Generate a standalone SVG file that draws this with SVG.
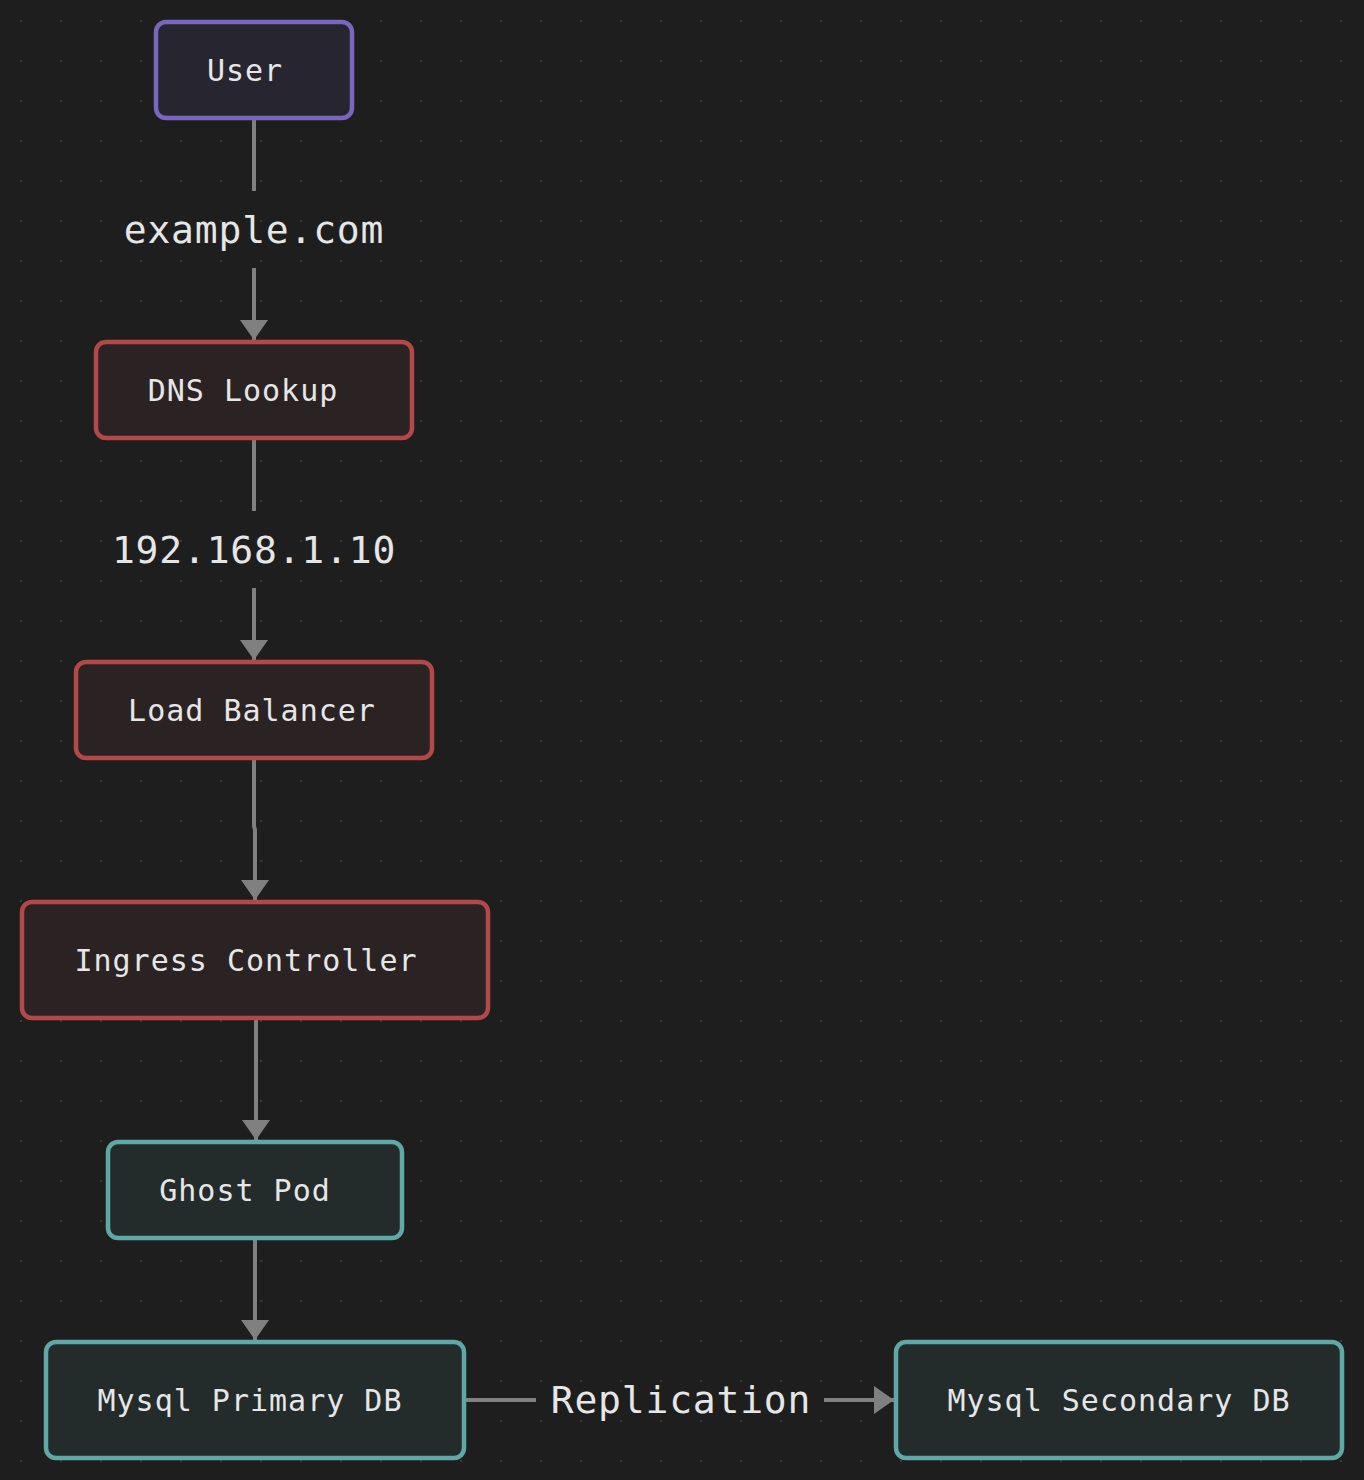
<svg xmlns="http://www.w3.org/2000/svg" width="1364" height="1480" viewBox="0 0 1364 1480">
<defs>
<pattern id="dots" x="0" y="0" width="40" height="40" patternUnits="userSpaceOnUse">
<rect x="20" y="20" width="2" height="2" fill="#3a3a3a"/>
</pattern>
<marker id="arr" viewBox="0 0 10 14" refX="10" refY="7" markerWidth="5" markerHeight="7" markerUnits="strokeWidth" orient="auto">
<path d="M0,0 L10,7 L0,14 z" fill="#808080"/>
</marker>
<style>
.node rect{stroke-width:4.5}
.purple rect{fill:#262530;stroke:#7b66bd}
.red rect{fill:#2b2223;stroke:#b24848}
.teal rect{fill:#232b2b;stroke:#5fa8a6}
.lbl{font-family:"DejaVu Sans Mono","Liberation Mono",monospace;font-size:30px;fill:#e6e6e6;text-anchor:middle;letter-spacing:1px}
.elbl{font-family:"DejaVu Sans Mono","Liberation Mono",monospace;font-size:38px;fill:#e6e6e6;text-anchor:middle;letter-spacing:0.8px}
.edge{stroke:#808080;stroke-width:4;fill:none}
</style>
</defs>
<rect width="1364" height="1480" fill="#1e1e1e"/>
<rect width="1364" height="1480" fill="url(#dots)"/>
<g id="connectors">
<line class="edge" x1="254" y1="118" x2="254" y2="191"/>
<text class="elbl" x="254" y="243">example.com</text>
<line class="edge" x1="254" y1="268" x2="254" y2="340" marker-end="url(#arr)"/>
<line class="edge" x1="254" y1="438" x2="254" y2="511"/>
<text class="elbl" x="254" y="563">192.168.1.10</text>
<line class="edge" x1="254" y1="588" x2="254" y2="660" marker-end="url(#arr)"/>
<path class="edge" d="M254,758 L254,826 L255,830 L255,900" marker-end="url(#arr)"/>
<line class="edge" x1="256" y1="1018" x2="256" y2="1140" marker-end="url(#arr)"/>
<line class="edge" x1="255" y1="1238" x2="255" y2="1340" marker-end="url(#arr)"/>
<line class="edge" x1="464" y1="1400" x2="536" y2="1400"/>
<text class="elbl" x="681" y="1413">Replication</text>
<line class="edge" x1="824" y1="1400" x2="894" y2="1400" marker-end="url(#arr)"/>
</g>
<g id="user" class="node purple"><rect x="156" y="22" width="196" height="96" rx="10"/><text class="lbl" x="245" y="81">User</text></g>
<g id="dns" class="node red"><rect x="96" y="342" width="316" height="96" rx="10"/><text class="lbl" x="243" y="401">DNS Lookup</text></g>
<g id="lb" class="node red"><rect x="76" y="662" width="356" height="96" rx="10"/><text class="lbl" x="252" y="721">Load Balancer</text></g>
<g id="ingress" class="node red"><rect x="22" y="902" width="466" height="116" rx="10"/><text class="lbl" x="246" y="971">Ingress Controller</text></g>
<g id="ghost" class="node teal"><rect x="108" y="1142" width="294" height="96" rx="10"/><text class="lbl" x="245" y="1201">Ghost Pod</text></g>
<g id="primary" class="node teal"><rect x="46" y="1342" width="418" height="116" rx="10"/><text class="lbl" x="250" y="1411">Mysql Primary DB</text></g>
<g id="secondary" class="node teal"><rect x="896" y="1342" width="446" height="116" rx="10"/><text class="lbl" x="1119" y="1411">Mysql Secondary DB</text></g>
</svg>
